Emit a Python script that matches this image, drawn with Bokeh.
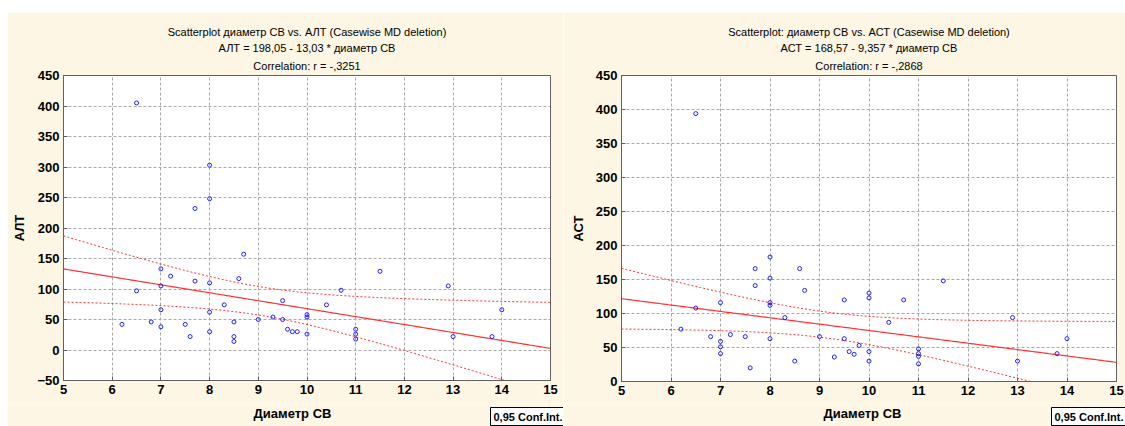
import numpy as np
from bokeh.plotting import figure
from bokeh.models import Range1d, Title, Label, FixedTicker, Spacer
from bokeh.layouts import row, column
from bokeh.embed import file_html
from bokeh.resources import INLINE

# ---------------- data ----------------
X_TICKS = list(range(5, 16))
ALT_TICKS = list(range(-50, 451, 50))
AST_TICKS = list(range(0, 451, 50))

alt_x = [6.5, 6.2, 7.0, 7.0, 7.0, 7.0, 7.2, 6.8, 7.5, 7.6, 7.7, 8.0, 8.0, 8.0, 8.3,
         8.5, 8.5, 8.5, 8.6, 8.7, 9.0, 9.3, 9.5, 9.5, 9.6, 9.7, 9.8, 10.0, 10.0, 10.0,
         6.5, 8.0, 8.0, 7.7, 10.4, 10.7, 11.0, 11.0, 11.0, 11.5, 12.9, 13.0, 13.8, 14.0]
alt_y = [97, 42, 133, 105, 66, 38, 121, 46, 42, 22, 113, 110, 62, 30, 74,
         46, 22, 14, 117, 157, 50, 54, 81, 50, 34, 30, 30, 26, 58, 54,
         405, 303, 248, 232, 74, 98, 34, 26, 18, 129, 105, 22, 22, 66]

ast_x = [6.5, 6.2, 6.8, 7.0, 7.0, 7.0, 7.0, 7.2, 7.5, 7.6, 7.7, 7.7, 8.0, 8.0, 8.0,
         8.0, 8.0, 8.3, 8.5, 8.6, 8.7, 9.0, 9.3, 9.5, 9.5, 9.6, 9.7, 9.8, 10.0, 10.0,
         10.0, 10.0, 6.5, 10.4, 10.7, 11.0, 11.0, 11.0, 11.0, 11.5, 12.9, 13.0, 13.8, 14.0]
ast_y = [108, 77, 66, 116, 59, 51, 41, 69, 66, 20, 166, 141, 183, 152, 116,
         112, 63, 94, 30, 166, 134, 66, 36, 120, 63, 44, 40, 53, 130, 123,
         44, 30, 394, 87, 120, 48, 41, 37, 26, 148, 94, 30, 41, 63]

ALT_COEF = (198.05, -13.03)
AST_COEF = (168.57, -9.357)
T_CRIT = 2.018  # t(0.975, df=42)

ALT_TITLES = ["Scatterplot диаметр СВ vs. АЛТ (Casewise MD deletion)",
              "АЛТ = 198,05 - 13,03 * диаметр СВ",
              "Correlation: r = -,3251"]
AST_TITLES = ["Scatterplot: диаметр СВ vs. АСТ (Casewise MD deletion)",
              "АСТ = 168,57 - 9,357 * диаметр СВ",
              "Correlation: r = -,2868"]
X_LABEL = "Диаметр СВ"
LEGEND_TEXT = "0,95 Conf.Int."

# ---------------- style ----------------
BG = "#FDF6E4"
FONT = "Liberation Sans"
FRAME = "#606060"
GRID = "#A8A8A8"
H_MAIN = 391
H_BOTTOM = 23


def make_plot(xs, ys, coef, yticks, yr, titles, ylabel, width, mbl, mbr, mbb):
    p = figure(width=width, height=H_MAIN, x_range=Range1d(5, 15), y_range=Range1d(*yr),
               output_backend="svg", toolbar_location=None,
               min_border_left=mbl, min_border_right=mbr,
               min_border_top=63, min_border_bottom=mbb)
    p.background_fill_color = "white"
    p.border_fill_color = BG
    p.outline_line_color = FRAME
    p.title.visible = False

    for ax in (p.xaxis[0], p.yaxis[0]):
        ax.major_label_text_font = FONT
        ax.major_label_text_font_size = "13px"
        ax.major_label_text_font_style = "bold"
        ax.major_label_text_color = "black"
        ax.major_tick_in = 4
        ax.major_tick_out = 0
        ax.minor_tick_line_color = None
        ax.axis_line_color = FRAME
        ax.major_tick_line_color = FRAME
        ax.axis_label_text_font = FONT
        ax.axis_label_text_font_size = "13px"
        ax.axis_label_text_font_style = "bold"
        ax.axis_label_text_color = "black"
    p.xaxis.ticker = FixedTicker(ticks=X_TICKS)
    p.yaxis.ticker = FixedTicker(ticks=yticks)
    p.xaxis.major_label_standoff = 4
    p.yaxis.major_label_standoff = 4
    p.yaxis.axis_label = ylabel
    p.yaxis.axis_label_standoff = 7

    standoffs = [2, 2, 7]
    for t, so in reversed(list(zip(titles, standoffs))):
        p.add_layout(Title(text=t, align="center", text_font=FONT, text_font_size="11px",
                           text_font_style="normal", text_color="black", standoff=so), "above")

    p.xgrid.ticker = FixedTicker(ticks=X_TICKS)
    p.ygrid.ticker = FixedTicker(ticks=yticks)
    for g in (p.xgrid[0], p.ygrid[0]):
        g.grid_line_color = GRID
        g.grid_line_dash = "3 2"
        g.grid_line_width = 1

    # regression line and 95% confidence bands
    x = np.array(xs, dtype=float)
    y = np.array(ys, dtype=float)
    n = len(x)
    a, b = coef
    resid = y - (a + b * x)
    s = np.sqrt(np.sum(resid ** 2) / (n - 2))
    xbar = x.mean()
    sxx = np.sum((x - xbar) ** 2)
    xg = np.linspace(5, 15, 201)
    yhat = a + b * xg
    hw = T_CRIT * s * np.sqrt(1.0 / n + (xg - xbar) ** 2 / sxx)

    p.line(xg, yhat + hw, line_color="#FF3030", line_width=1, line_dash="2 2")
    p.line(xg, yhat - hw, line_color="#FF3030", line_width=1, line_dash="2 2")
    p.line(xg, yhat, line_color="#FF3030", line_width=1.2)

    p.scatter(xs, ys, marker="circle", size=4, fill_color=None,
              line_color="#2020FF", line_width=1)
    return p


def make_bottom(width, label_x, legend_x):
    b = figure(width=width, height=H_BOTTOM, x_range=Range1d(0, 1), y_range=Range1d(0, 1),
               output_backend="svg", toolbar_location=None, frame_align=False,
               min_border_left=0, min_border_right=0, min_border_top=0, min_border_bottom=0)
    b.axis.visible = False
    b.grid.visible = False
    b.outline_line_color = None
    b.background_fill_color = BG
    b.border_fill_color = BG
    b.title.visible = False
    b.add_layout(Label(x=label_x, y=13, x_units="screen", y_units="screen", text=X_LABEL,
                       text_font=FONT, text_font_size="13px", text_font_style="bold",
                       text_color="black", text_align="center", text_baseline="middle"))
    b.add_layout(Label(x=legend_x, y=10, x_units="screen", y_units="screen", text=LEGEND_TEXT,
                       text_font=FONT, text_font_size="11px", text_font_style="bold",
                       text_color="black", text_align="left", text_baseline="middle",
                       border_line_color="black", background_fill_color="white", padding=3))
    return b


p1 = make_plot(alt_x, alt_y, ALT_COEF, ALT_TICKS, (-50, 450), ALT_TITLES, "АЛТ",
               556, 56, 13, 23)
p2 = make_plot(ast_x, ast_y, AST_COEF, AST_TICKS, (0, 450), AST_TITLES, "АСТ",
               562, 58, 9, 22)
b1 = make_bottom(556, 285, 483)
b2 = make_bottom(562, 299, 488)

layout = column(Spacer(width=1125, height=12),
                row(Spacer(width=7, height=H_MAIN + H_BOTTOM),
                    column(p1, b1, spacing=0), column(p2, b2, spacing=0), spacing=0),
                spacing=0)
open("out.html", "w").write(file_html(layout, INLINE))
